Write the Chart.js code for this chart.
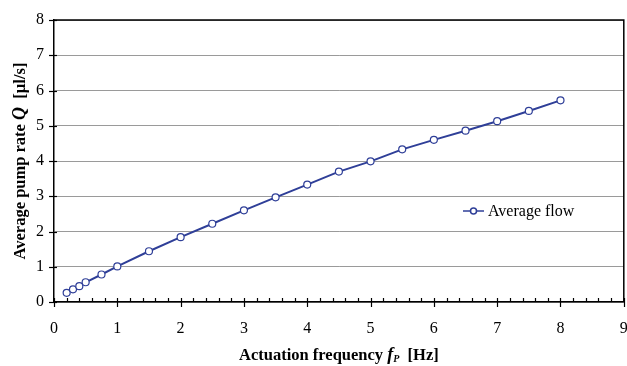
<!DOCTYPE html>
<html>
<head>
<meta charset="utf-8">
<script src="https://cdn.jsdelivr.net/npm/chart.js@4/dist/chart.umd.min.js"></script>
<style>
  body { margin: 0; background: #fff; overflow: hidden; }
  #wrap { width: 627px; height: 366px; overflow: hidden; }
</style>
</head>
<body>
<div id="wrap"><canvas id="myChart" width="629" height="366"></canvas></div>
<script>
// values
var freq = [0.2, 0.3, 0.4, 0.5, 0.75, 1, 1.5, 2, 2.5, 3, 3.5, 4, 4.5, 5, 5.5, 6, 6.5, 7, 7.5, 8];
var flow = [0.26, 0.36, 0.45, 0.56, 0.78, 1.01, 1.44, 1.84, 2.22, 2.60, 2.97, 3.33, 3.70, 3.99, 4.33, 4.60, 4.86, 5.13, 5.42, 5.72];
var xTicks = [0, 1, 2, 3, 4, 5, 6, 7, 8, 9];
var yTicks = [0, 1, 2, 3, 4, 5, 6, 7, 8];
var seriesName = 'Average flow';

var blue = '#2f3f98';
var serif = '"Liberation Serif", "Times New Roman", serif';

// draw a row of text pieces with different fonts, centred on (0,0)
function drawRuns(ctx, runs) {
    var total = 0;
    runs.forEach(function (r) { ctx.font = r.font; r.w = ctx.measureText(r.text).width; total += r.w; });
    var x = -total / 2;
    ctx.textBaseline = 'alphabetic';
    ctx.textAlign = 'left';
    runs.forEach(function (r) {
        ctx.font = r.font;
        ctx.fillText(r.text, x, r.dy || 0);
        x += r.w;
    });
}

var extras = {
    id: 'extras',
    beforeDatasetsDraw: function (chart) {
        var ctx = chart.ctx, a = chart.chartArea;
        var xs = chart.scales.x, ys = chart.scales.y;
        ctx.save();
        ctx.strokeStyle = '#000';
        ctx.lineWidth = 1.5;
        // top and right frame
        ctx.beginPath();
        ctx.moveTo(a.left, a.top); ctx.lineTo(a.right, a.top); ctx.lineTo(a.right, a.bottom);
        ctx.stroke();
        ctx.lineWidth = 1.2;
        // x ticks: majors cross the axis, minors point up
        for (var i = 0; i <= 45; i++) {
            var px = Math.round(xs.getPixelForValue(i / 5)) + 0.5;
            ctx.beginPath();
            if (i % 5 === 0) { ctx.moveTo(px, a.bottom - 4); ctx.lineTo(px, a.bottom + 5); }
            else { ctx.moveTo(px, a.bottom - 4); ctx.lineTo(px, a.bottom); }
            ctx.stroke();
        }
        // y ticks
        yTicks.forEach(function (v) {
            var py = Math.round(ys.getPixelForValue(v)) + 0.5;
            ctx.beginPath(); ctx.moveTo(a.left - 5, py); ctx.lineTo(a.left + 3, py); ctx.stroke();
        });
        ctx.restore();
    },
    afterDraw: function (chart) {
        var ctx = chart.ctx, a = chart.chartArea;
        ctx.save();
        ctx.fillStyle = '#000';
        // x title
        ctx.save();
        ctx.translate((a.left + a.right) / 2, 360);
        drawRuns(ctx, [
            { text: 'Actuation frequency ', font: 'bold 16.5px ' + serif },
            { text: 'f', font: 'bold italic 18px ' + serif },
            { text: 'P', font: 'bold italic 10px ' + serif, dy: 2 },
            { text: '  [Hz]', font: 'bold 16.5px ' + serif }
        ]);
        ctx.restore();
        // y title
        ctx.save();
        ctx.translate(25, (a.top + a.bottom) / 2);
        ctx.rotate(-Math.PI / 2);
        drawRuns(ctx, [
            { text: 'Average pump rate ', font: 'bold 16.5px ' + serif },
            { text: 'Q', font: 'bold italic 18px ' + serif },
            { text: '  [\u00b5l/s]', font: 'bold 16.5px ' + serif }
        ]);
        ctx.restore();
        // legend inside plot
        var ly = 211;
        ctx.strokeStyle = blue; ctx.lineWidth = 1.5;
        ctx.beginPath(); ctx.moveTo(463, ly); ctx.lineTo(484, ly); ctx.stroke();
        ctx.fillStyle = '#fff';
        ctx.beginPath(); ctx.arc(473.5, ly, 3, 0, Math.PI * 2); ctx.fill(); ctx.stroke();
        ctx.fillStyle = '#000';
        ctx.font = '16px ' + serif;
        ctx.textBaseline = 'middle';
        ctx.textAlign = 'left';
        ctx.fillText(chart.data.datasets[0].label, 488, ly + 1);
        ctx.restore();
    }
};

var ctx = document.getElementById('myChart').getContext('2d');
var chart = new Chart(ctx, {
    type: 'line',
    data: {
        datasets: [{
            label: seriesName,
            data: freq.map(function (f, i) { return { x: f, y: flow[i] }; }),
            borderColor: blue,
            borderWidth: 2,
            pointRadius: 3.5,
            pointBackgroundColor: '#fff',
            pointBorderColor: blue,
            pointBorderWidth: 1.2,
            tension: 0
        }]
    },
    options: {
        responsive: false,
        animation: false,
        layout: { padding: { top: 20, right: 0, left: 0, bottom: 0 } },
        plugins: { legend: { display: false }, tooltip: { enabled: false } },
        scales: {
            x: {
                type: 'linear',
                min: xTicks[0], max: xTicks[xTicks.length - 1],
                afterBuildTicks: function (s) { s.ticks = xTicks.map(function (v) { return { value: v }; }); },
                ticks: { font: { family: serif, size: 16 }, color: '#000', padding: 9 },
                grid: { display: false },
                border: { color: '#000', width: 1.5 },
                afterFit: function (s) { s.height = 64; s.paddingLeft = 0; s.paddingRight = 0; }
            },
            y: {
                min: yTicks[0], max: yTicks[yTicks.length - 1],
                afterBuildTicks: function (s) { s.ticks = yTicks.map(function (v) { return { value: v }; }); },
                ticks: { font: { family: serif, size: 16 }, color: '#000', padding: 10 },
                grid: { color: '#9a9a9a', lineWidth: 1, drawTicks: false },
                border: { color: '#000', width: 1.5 },
                afterFit: function (s) { s.width = 54; s.paddingTop = 0; s.paddingBottom = 0; }
            }
        }
    },
    plugins: [extras]
});
</script>
</body>
</html>
